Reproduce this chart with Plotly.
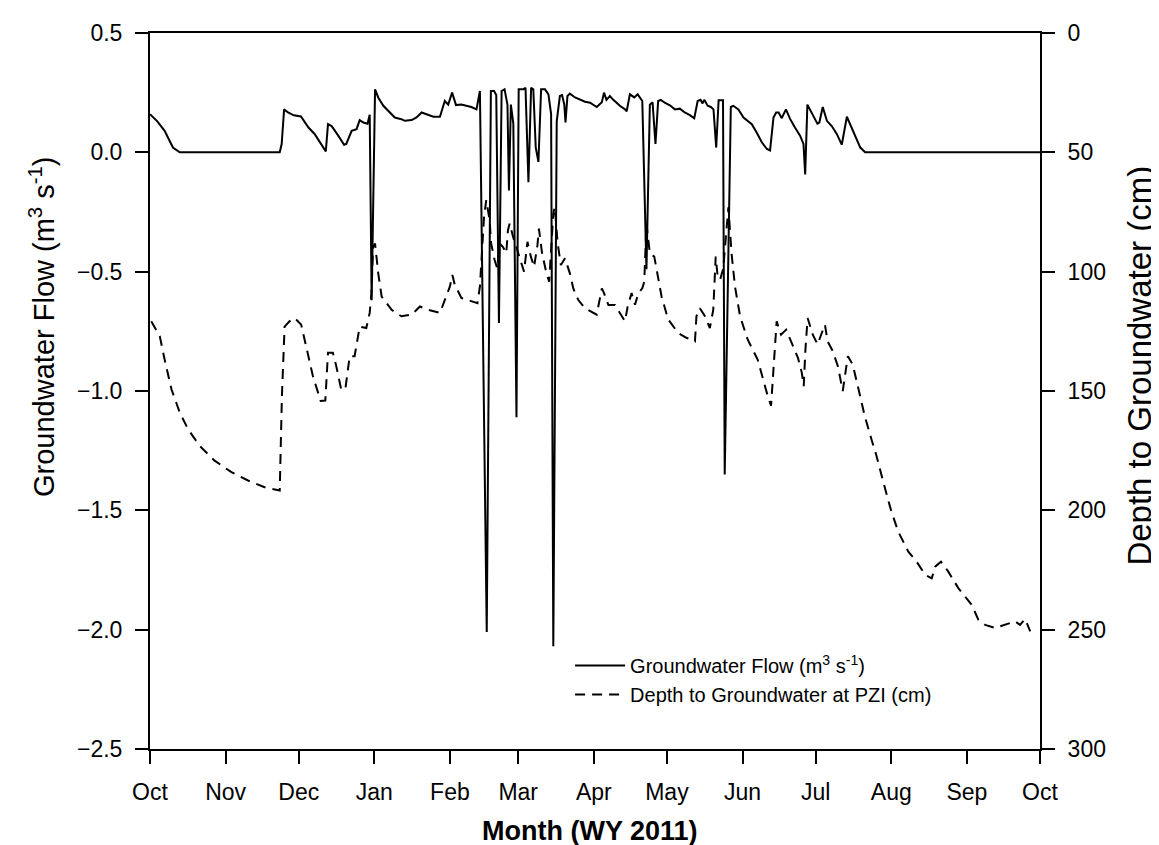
import pandas as pd
import plotly.graph_objects as go

# Day of water year (0 = 1 Oct 2010) and groundwater flow (m3 s-1)
flow_day = [0, 3, 6, 9.4, 12.2, 53.2, 54, 55, 56.6, 59, 61.9, 65, 67.5, 70.4, 72.1, 73, 74.5, 77.2,
            79.6, 80.5, 82.7, 84.7, 86, 87.5, 89.2, 90.1, 90.9, 92.3, 93.6, 95.7, 97.7, 100.4, 103.1,
            104.5, 107.3, 109.3, 111.4, 114.1, 116.2, 118.9, 120.9, 122.3, 123.9, 125.5, 127.7, 129.7,
            131.8, 133.9, 135.3, 138.1, 139.8, 141.1, 142, 143.1, 144.2, 145.4, 146.6, 147.2, 148, 149,
            150.3, 151.2, 153.1, 154, 155.2, 156.3, 157.2, 158.2, 159.3, 160.4, 162, 163.4, 164.5, 165.4,
            166.8, 168.1, 169, 169.9, 170.4, 171.2, 172.2, 174.3, 176.4, 178.4, 180.5, 183.2, 185.3,
            186.2, 187.2, 188.6, 190, 192.7, 194.8, 195.5, 196.8, 198.6, 200, 201.9, 203.6, 205, 206.1,
            207.3, 208.4, 209.5, 211.1, 213.2, 215.3, 217.3, 219.3, 221.4, 223.2, 224.6, 225.8, 226.6,
            227.3, 228.7, 230, 231.1, 232.2, 233.2, 234, 235, 235.7, 238.2, 239.2, 241.3, 243.4, 246.8,
            248.8, 250.9, 253, 254.3, 255.7, 256.8, 257.8, 259.1, 260.8, 262.5, 264.5, 266.6, 268,
            268.7, 269.6, 271.4, 273.7, 274.5, 275.9, 277.6, 279.6, 281.7, 283.7, 285.8, 287.1, 289.2,
            291.3, 293.3, 365]
flow_value = [0.16, 0.13, 0.09, 0.02, 0.0, 0.0, 0.035, 0.18, 0.167, 0.155, 0.15, 0.104, 0.077, 0.028,
              0.004, 0.118, 0.11, 0.07, 0.032, 0.035, 0.09, 0.097, 0.135, 0.125, 0.12, 0.157, -0.62,
              0.264, 0.23, 0.195, 0.174, 0.146, 0.139, 0.132, 0.135, 0.146, 0.167, 0.156, 0.149, 0.149,
              0.215, 0.2, 0.25, 0.198, 0.2, 0.195, 0.19, 0.18, 0.257, -2.01, 0.257, 0.257, 0.24, -0.715,
              0.257, 0.264, 0.2, -0.16, 0.2, 0.12, -1.11, 0.264, 0.264, 0.27, -0.125, 0.27, 0.264, 0.02,
              -0.04, 0.264, 0.264, 0.243, 0.16, -2.07, 0.13, 0.236, 0.24, 0.2, 0.125, 0.236, 0.246, 0.23,
              0.222, 0.212, 0.208, 0.19, 0.21, 0.25, 0.22, 0.236, 0.22, 0.195, 0.18, 0.172, 0.243, 0.23,
              0.243, 0.215, -0.49, 0.2, 0.21, 0.035, 0.215, 0.22, 0.208, 0.197, 0.18, 0.183, 0.167,
              0.156, 0.143, 0.215, 0.22, 0.205, 0.22, 0.195, 0.19, 0.18, 0.02, 0.218, 0.218, 0.218,
              -1.35, 0.19, 0.195, 0.18, 0.146, 0.118, 0.083, 0.042, 0.014, 0.008, 0.146, 0.167, 0.167,
              0.143, 0.18, 0.14, 0.104, 0.07, 0.035, -0.093, 0.2, 0.167, 0.12, 0.125, 0.19, 0.132, 0.11,
              0.076, 0.032, 0.149, 0.118, 0.07, 0.02, 0.0, 0.0]

# Day of water year and depth to groundwater at PZI (cm)
depth_day = [0.5, 4, 6, 8.8, 12.2, 15.6, 20.4, 26.5, 33.4, 40.2, 47, 53.2, 54.1, 55.2, 57.2, 59.3, 62,
             64.1, 66.8, 70, 71.9, 73, 75, 76.4, 78.4, 80.1, 81.9, 83.9, 85.3, 86, 88.7, 90.1, 90.8,
             91.5, 92.3, 93.6, 95, 99.1, 103.1, 107.3, 110.7, 114.1, 118.9, 120.9, 123, 124, 125, 127.7,
             131.8, 134.3, 135.3, 136.2, 137, 137.9, 139.3, 139.9, 141.3, 142.4, 143.4, 144.7, 146.1,
             146.8, 147.5, 148.9, 150.3, 151.6, 153.4, 154.8, 156.2, 157.5, 158.9, 159.5, 160.8, 162.6,
             163.7, 165.4, 166, 167.2, 168.5, 170.2, 172.2, 173.6, 175.6, 178.4, 183.2, 185.3, 186.2,
             188, 190.7, 192.7, 194.8, 195.9, 197.5, 198.9, 200.3, 201.9, 202.7, 203.6, 205, 206.8,
             208.4, 209.8, 212.5, 216.6, 220, 223.5, 224.1, 225.5, 227.6, 229.6, 231, 231.7, 232, 232.8,
             233.8, 235.1, 236.1, 236.9, 237.2, 238.5, 239.9, 242, 245.1, 249.2, 251.3, 253.3, 254.7,
             256.1, 257, 258.8, 260.9, 262.9, 265.7, 267.3, 268.1, 268.8, 269.7, 271.8, 273.8, 275.5,
             276.8, 277.9, 280, 282.1, 284.1, 286.2, 288.2, 290.3, 293.1, 295.8, 297.9, 300.7, 304.1,
             306.9, 311, 314.4, 317.9, 320.6, 322, 324.4, 327.4, 331.5, 337, 339.7, 342.5, 346.6, 350.7,
             354.8, 356.8, 358.9, 361]
depth_value = [120.8, 127, 136.8, 149.3, 159, 166, 173, 179.2, 184, 187.5, 190.3, 191.7, 152, 123,
               120.8, 119.4, 122.2, 131.2, 143.7, 154.2, 154, 134, 134, 139.6, 149.3, 149.3, 135.4,
               135.4, 127, 123, 123.6, 117.3, 109, 89.6, 88.2, 100.7, 110.4, 116, 118.7, 118, 114.6,
               116, 117.3, 111.8, 106.2, 101.4, 105.5, 111, 112.5, 113.2, 106.2, 88.2, 77, 70, 78.5,
               88.2, 95, 98.6, 88.2, 89.6, 92.3, 82.6, 79.8, 85.4, 90, 94.4, 100, 87.5, 93.7, 98, 88.9,
               82, 92.3, 100.7, 104.2, 75.7, 73, 88.2, 97.2, 94.4, 100.7, 107, 111.8, 115.3, 118, 107,
               109, 114, 114, 117.3, 120.8, 114.6, 109, 113.9, 109, 107, 104.2, 79.8, 92.3, 93.7, 102,
               110.4, 120, 125.7, 127.7, 129.2, 118.7, 115.3, 118.7, 123.6, 116, 102, 93.7, 102, 103.4,
               98.6, 85.4, 77, 73, 92.3, 106.2, 118.7, 128.4, 136.8, 145.1, 152, 156.2, 136.8, 120.8,
               126.4, 124.3, 129.2, 136, 142.3, 148, 132.6, 119.4, 126.4, 130.5, 125.7, 122.2, 129.2,
               133.3, 139.6, 150, 135.4, 138.9, 148, 160.4, 170, 177, 188, 200.7, 209, 217.3, 221.5, 227,
               228.5, 223.6, 221.5, 225.7, 232.6, 239.6, 245.8, 248, 249.3, 248, 246.5, 248, 245.5,
               250.7]

start = pd.Timestamp("2010-10-01")
flow_dates = start + pd.to_timedelta(flow_day, unit="D")
depth_dates = start + pd.to_timedelta(depth_day, unit="D")

FONT = "Liberation Sans, Arial, sans-serif"

fig = go.Figure()
fig.add_trace(go.Scatter(x=flow_dates, y=flow_value, mode="lines",
                         name="Groundwater Flow (m<sup>3</sup> s<sup>-1</sup>)",
                         line=dict(color="black", width=2)))
fig.add_trace(go.Scatter(x=depth_dates, y=depth_value, mode="lines", yaxis="y2",
                         name="Depth to Groundwater at PZI (cm)",
                         line=dict(color="black", width=2, dash="10px,7px")))

axis_common = dict(showline=True, linecolor="black", linewidth=2, ticks="outside",
                   ticklen=13, tickwidth=2, tickcolor="black", showgrid=False, zeroline=False,
                   tickfont=dict(family=FONT, size=23, color="black"))

fig.update_layout(
    width=1159, height=845,
    margin=dict(l=142, r=127, t=22, b=104),
    paper_bgcolor="white", plot_bgcolor="white",
    showlegend=True,
    legend=dict(x=0.472, y=0.144, xanchor="left", yanchor="top",
                font=dict(family=FONT, size=20, color="black"),
                bgcolor="rgba(0,0,0,0)", tracegroupgap=0, itemwidth=50),
    xaxis=dict(type="date", range=["2010-10-01", "2011-10-01"], dtick="M1",
               tick0="2010-10-01", tickformat="%b", mirror=True, ticklabelstandoff=8,
               **axis_common),
    yaxis=dict(range=[-2.5, 0.5], dtick=0.5, tickformat=".1f", ticklabelstandoff=8,
               **axis_common),
    yaxis2=dict(range=[300, 0], dtick=50, overlaying="y", side="right",
                ticklabelstandoff=8, **axis_common),
    annotations=[
        dict(text="Groundwater Flow (m<sup>3</sup> s<sup>-1</sup>)", textangle=-90,
             xref="paper", yref="paper", x=-0.122, y=0.59, xanchor="center", yanchor="middle",
             showarrow=False, font=dict(family=FONT, size=29, color="black")),
        dict(text="Depth to Groundwater (cm)", textangle=-90,
             xref="paper", yref="paper", x=1.112, y=0.535, xanchor="center", yanchor="middle",
             showarrow=False, font=dict(family=FONT, size=33, color="black")),
        dict(text="<b>Month (WY 2011)</b>", xref="paper", yref="paper",
             x=0.494, y=-0.114, xanchor="center", yanchor="middle",
             showarrow=False, font=dict(family=FONT, size=27, color="black")),
    ],
)

fig.write_html("out.html")
